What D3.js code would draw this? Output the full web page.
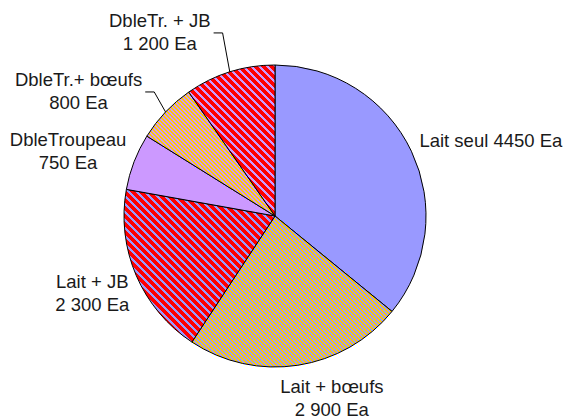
<!DOCTYPE html>
<html>
<head>
<meta charset="utf-8">
<script src="https://cdn.jsdelivr.net/npm/d3@7"></script>
<style>
  body { margin: 0; background: #fff; }
  text { font-family: "Liberation Sans", Arial, sans-serif; font-size: 18.5px; fill: #1a1a1a; }
</style>
</head>
<body>
<svg width="564" height="419"></svg>
<script>
const svg = d3.select("svg");

// data
const categories = ["Lait seul", "Lait + bœufs", "Lait + JB", "DbleTroupeau", "DbleTr.+ bœufs", "DbleTr. + JB"];
const values = [4450, 2900, 2300, 750, 800, 1200];
const valueLabels = ["4450 Ea", "2 900 Ea", "2 300 Ea", "750 Ea", "800 Ea", "1 200 Ea"];

const cx = 275, cy = 216, radius = 151;

// fill of each slice: background plus optional "\" stripes
const fills = [
  { bg: "#9999FF" },
  { bg: "#9999FF", fg: "#FFCC00", period: 4, on: 2 },
  { bg: "#9999FF", fg: "#FF0000", period: 8, on: 5 },
  { bg: "#CC99FF" },
  { bg: "#CC99FF", fg: "#FFCC00", period: 4, on: 2 },
  { bg: "#CC99FF", fg: "#FF0000", period: 8, on: 5 }
];

// label placement relative to the slice's outer mid point
const labelOffsets = [
  { dx: 8, dy: -4, anchor: "start", oneLine: true },
  { dx: 34, dy: 28, anchor: "middle" },
  { dx: -44, dy: 12, anchor: "middle" },
  { dx: -66, dy: -16, anchor: "middle" },
  { dx: -87, dy: -26, anchor: "middle", leader: true },
  { dx: -70, dy: -45, anchor: "middle", leader: true }
];
const lineGap = 23;

const defs = svg.append("defs");
fills.forEach((f, i) => {
  if (!f.fg) return;
  const p = defs.append("pattern")
    .attr("id", "pat" + i)
    .attr("patternUnits", "userSpaceOnUse")
    .attr("width", f.period)
    .attr("height", f.period);
  p.append("rect")
    .attr("width", f.period)
    .attr("height", f.period)
    .attr("fill", f.bg);
  for (let y = 0; y < f.period; y++) {
    for (let k = 0; k < f.on; k++) {
      p.append("rect")
        .attr("x", (y + k) % f.period)
        .attr("y", y)
        .attr("width", 1)
        .attr("height", 1)
        .attr("fill", f.fg)
        .attr("shape-rendering", "crispEdges");
    }
  }
});

const pie = d3.pie().sort(null).value(d => d);
const arcs = pie(values);

const arc = d3.arc().innerRadius(0).outerRadius(radius);

const g = svg.append("g").attr("transform", `translate(${cx},${cy})`);

g.selectAll("path.slice")
  .data(arcs)
  .enter()
  .append("path")
  .attr("class", "slice")
  .attr("d", arc)
  .attr("fill", (d, i) => fills[i].fg ? `url(#pat${i})` : fills[i].bg)
  .attr("stroke", "#000")
  .attr("stroke-width", 1)
  .attr("stroke-linejoin", "round");

const polar = (a, r) => [r * Math.sin(a), -r * Math.cos(a)];

arcs.forEach((d, i) => {
  const mid = (d.startAngle + d.endAngle) / 2;
  const [px, py] = polar(mid, radius);
  const o = labelOffsets[i];
  const lx = px + o.dx, ly = py + o.dy;

  const t = g.append("text")
    .attr("x", lx)
    .attr("y", ly)
    .attr("text-anchor", o.anchor);

  if (o.oneLine) {
    t.text(categories[i] + " " + valueLabels[i]);
  } else {
    t.append("tspan").attr("x", lx).attr("y", ly).text(categories[i]);
    t.append("tspan").attr("x", lx).attr("y", ly + lineGap).text(valueLabels[i]);
  }

  if (o.leader) {
    const first = t.select("tspan").node();
    const w = first.getComputedTextLength();
    const ex = lx + w / 2 + 3, ey = ly + 6;
    g.append("path")
      .attr("d", d3.line()([[ex, ey], [ex + 9, ey], [px, py]]))
      .attr("fill", "none")
      .attr("stroke", "#000")
      .attr("stroke-width", 1);
  }
});
</script>
</body>
</html>
